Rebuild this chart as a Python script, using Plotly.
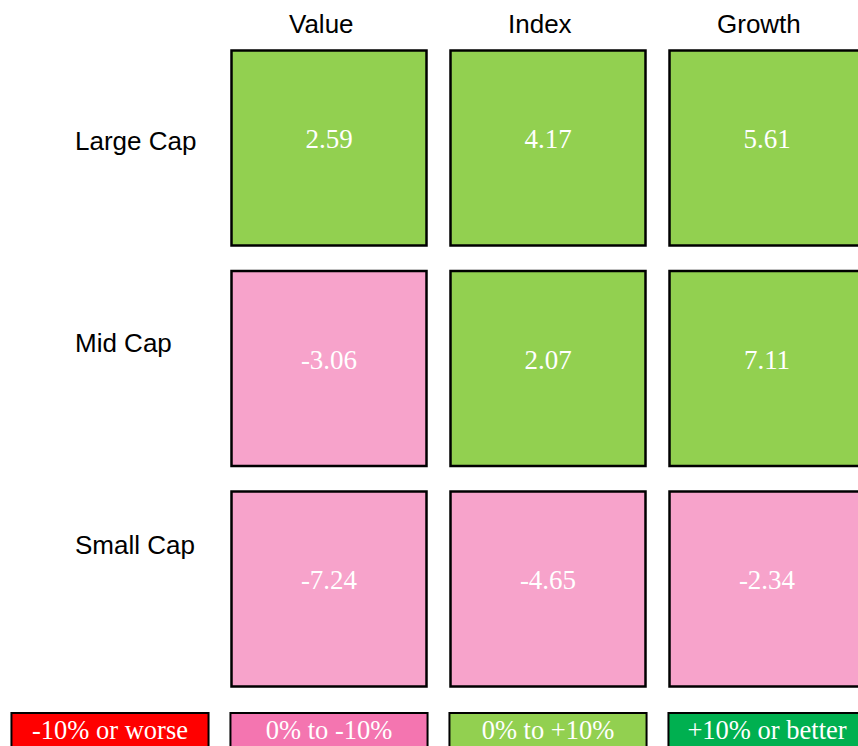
import plotly.graph_objects as go

# ---- data ----
columns = ["Value", "Index", "Growth"]
rows = ["Large Cap", "Mid Cap", "Small Cap"]
values = [
    [2.59, 4.17, 5.61],
    [-3.06, 2.07, 7.11],
    [-7.24, -4.65, -2.34],
]
legend_labels = ["-10% or worse", "0% to -10%", "0% to +10%", "+10% or better"]
legend_colors = ["#FF0000", "#F475B0", "#92D050", "#00B050"]
cell_palette = ["#FF0000", "#F7A3CB", "#92D050", "#00B050"]


def bin_color(v):
    if v <= -10:
        return cell_palette[0]
    if v < 0:
        return cell_palette[1]
    if v < 10:
        return cell_palette[2]
    return cell_palette[3]


xs, ys, cols, txt = [], [], [], []
for r, row in enumerate(rows):
    for c, col in enumerate(columns):
        xs.append(c)
        ys.append(r)
        cols.append(bin_color(values[r][c]))
        txt.append(f"{values[r][c]:.2f}")

fig = go.Figure()

# grid squares
fig.add_trace(go.Scatter(
    x=xs, y=ys, mode="markers",
    marker=dict(symbol="square", size=195, color=cols,
                line=dict(color="black", width=2.5)),
    hoverinfo="skip", cliponaxis=True,
))
# values inside squares (slightly above centre, as in the reference)
fig.add_trace(go.Scatter(
    x=xs, y=[y - 0.03 for y in ys], mode="text",
    text=txt, textposition="middle center",
    textfont=dict(family="Liberation Serif, Times New Roman, serif", size=27, color="white"),
    hoverinfo="skip", cliponaxis=False,
))

# legend boxes (bars hanging from the bottom row)
leg_x = [i - 1 for i in range(len(legend_labels))]
fig.add_trace(go.Bar(
    x=leg_x, y=[0.3] * len(legend_labels), base=[2.562] * len(legend_labels),
    width=0.9, marker=dict(color=legend_colors, line=dict(color="black", width=2)),
    hoverinfo="skip",
))
fig.add_trace(go.Scatter(
    x=leg_x, y=[2.652] * len(legend_labels), mode="text",
    text=legend_labels, textposition="middle center",
    textfont=dict(family="Liberation Serif, Times New Roman, serif", size=26.5, color="white"),
    hoverinfo="skip", cliponaxis=False,
))

# column headers
for c, col in enumerate(columns):
    fig.add_annotation(x=c, xref="x", y=1 - 24 / 746, yref="paper", xshift=-8,
                       text=col, showarrow=False, yanchor="middle",
                       font=dict(family="Liberation Sans, Arial, sans-serif", size=26, color="black"))

# row labels
row_label_y = [141, 343, 545]
for r, row in enumerate(rows):
    fig.add_annotation(x=73 / 858, xref="paper", y=1 - row_label_y[r] / 746, yref="paper",
                       text=row, showarrow=False, xanchor="left", yanchor="middle",
                       font=dict(family="Liberation Sans, Arial, sans-serif", size=26, color="black"))

fig.update_layout(
    width=858, height=746,
    margin=dict(l=0, r=0, t=0, b=0),
    paper_bgcolor="white", plot_bgcolor="white",
    showlegend=False,
    xaxis=dict(range=[-1.5023, 2.4155], visible=False, fixedrange=True),
    yaxis=dict(range=[2.712, -0.6712], visible=False, fixedrange=True),
)

fig.write_html(
    "out.html",
    config={"displayModeBar": False, "staticPlot": True},
    post_script="document.body.style.margin='0';document.body.style.overflow='hidden';",
)
